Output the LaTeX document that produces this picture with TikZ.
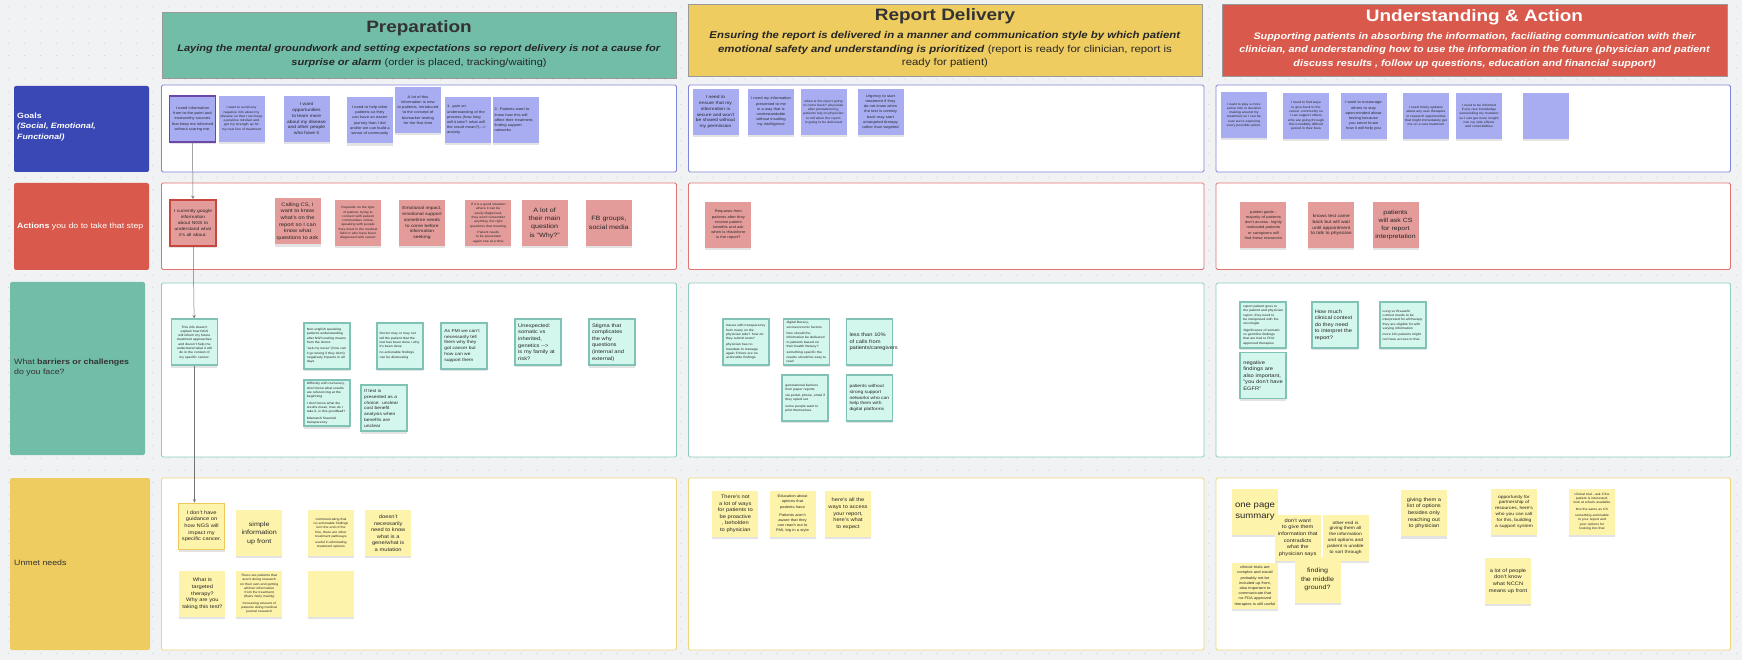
\documentclass[tikz,border=0pt]{standalone}
\usepackage{fontspec}
\setmainfont{Liberation Sans}[FakeStretch=1.15]
\usetikzlibrary{shapes,arrows,shadows}

\definecolor{board}{HTML}{F1F2F4}
\definecolor{boarddot}{HTML}{C3C7CD}
\definecolor{prepgreen}{HTML}{72BDA8}
\definecolor{delivyellow}{HTML}{EECC60}
\definecolor{actred}{HTML}{D95A4C}
\definecolor{goalblue}{HTML}{3A48B6}
\definecolor{goalline}{HTML}{7F85DA}
\definecolor{actline}{HTML}{E2746F}
\definecolor{barline}{HTML}{8CCDBF}
\definecolor{needline}{HTML}{F1D57A}
\definecolor{goalfill}{HTML}{A8ACF1}
\definecolor{actfill}{HTML}{E39C99}
\definecolor{barfill}{HTML}{D3F6ED}
\definecolor{barrim}{HTML}{80C2B6}
\definecolor{needfill}{HTML}{FDF3AA}
\definecolor{needrim}{HTML}{EEC957}
\definecolor{goalrim}{HTML}{6B48A8}
\definecolor{actrim}{HTML}{C9453E}
\definecolor{labeltext}{HTML}{333333}

\hyphenpenalty=10000
\exhyphenpenalty=10000

\begin{document}
\begin{tikzpicture}[x=1pt,y=-1pt]
\tikzstyle{sticky} = [rectangle, minimum width=46, minimum height=46, text width=42, inner sep=0pt, align=center, text=black!85, drop shadow={shadow xshift=0pt, shadow yshift=-2.2pt, opacity=0.22}]
\tikzstyle{goal} = [sticky, fill=goalfill]
\tikzstyle{act} = [sticky, fill=actfill]
\tikzstyle{barrier} = [sticky, fill=barfill, draw=barrim, line width=1.8pt, text width=40]
\tikzstyle{need} = [sticky, fill=needfill]
\tikzstyle{tiny txt} = [font=\fontsize{3.1}{4.3}\selectfont]
\tikzstyle{small txt} = [font=\fontsize{3.6}{5.2}\selectfont]
\tikzstyle{mid txt} = [font=\fontsize{4.3}{5.8}\selectfont]
\tikzstyle{plain txt} = [font=\fontsize{5}{6.6}\selectfont]
\tikzstyle{big txt} = [font=\fontsize{6.2}{8.4}\selectfont]
\tikzstyle{huge txt} = [font=\fontsize{8.3}{11}\selectfont]
\tikzstyle{header} = [rectangle, draw=black!40, line width=0.7pt]
\tikzstyle{headtitle} = [font=\fontsize{16.5}{20}\selectfont\bfseries, text=black!80]
\tikzstyle{headsub} = [align=center, font=\fontsize{9.6}{13.4}\selectfont, text=black!85]
\tikzstyle{rowlabel} = [rectangle, rounded corners=2pt]
\tikzstyle{rowtext} = [anchor=west, align=left, inner sep=0pt, font=\fontsize{7.65}{10.8}\selectfont]
\tikzstyle{lane} = [fill=white, line width=0.9pt, rounded corners=1.5pt]
\tikzstyle{flowline} = [->, >=stealth, draw=black!55, line width=0.5pt]

% board
\useasboundingbox (0,0) rectangle (1742,660);
\fill[board] (0,0) rectangle (1742,660);
\foreach \y in {6.7,18.9,...,660}
  \draw[boarddot, line width=1.1pt, line cap=round, dash pattern=on 0pt off 16pt] (8.8,\y) -- (1742,\y);

% lanes
\foreach \l/\r in {161.5/676.5,688.5/1204,1216/1730.5} {
  \draw[lane, draw=goalline] (\l,85) rectangle (\r,172);
  \draw[lane, draw=actline] (\l,183) rectangle (\r,269.5);
  \draw[lane, draw=barline] (\l,283) rectangle (\r,457);
  \draw[lane, draw=needline] (\l,478) rectangle (\r,650);
}

% phase headers
\node[header, fill=prepgreen, minimum width=514, minimum height=66] (hprep) at (419,45) {};
\node[headtitle] (tprep) at (419,28) {Preparation};
\node[headsub] (sprep) at (419,56) {\textbf{\textit{Laying the mental groundwork and setting expectations so report delivery is not a cause for}}\\
  \textbf{\textit{surprise or alarm}} (order is placed, tracking/waiting)};

\node[header, fill=delivyellow, minimum width=514, minimum height=72] (hdeliv) at (945,40) {};
\node[headtitle] (tdeliv) at (945,16.5) {Report Delivery};
\node[headsub, font=\fontsize{9.9}{13.4}\selectfont] (sdeliv) at (945,49.7) {\textbf{\textit{Ensuring the report is delivered in a manner and communication style by which patient}}\\
  \textbf{\textit{emotional safety and understanding is prioritized}} (report is ready for clinician, report is\\
  ready for patient)};

\node[header, fill=actred, minimum width=505, minimum height=72] (hact) at (1474.5,40) {};
\node[headtitle, text=white] (tact) at (1474.5,17.5) {Understanding \& Action};
\node[headsub, text=white, font=\fontsize{9.4}{13.4}\selectfont\bfseries\itshape] (sact) at (1474.5,50.5) {Supporting patients in absorbing the information, faciliating communication with their\\
  clinician, and understanding how to use the information in the future (physician and patient\\
  discuss results , follow up questions, education and financial support)};

% row labels
\node[rowlabel, fill=goalblue, minimum width=135, minimum height=86] (lgoal) at (81.5,129) {};
\node[rowtext, text=white] (xgoal) at (17,127) {\textbf{Goals}\\\textbf{\textit{(Social, Emotional,}}\\\textbf{\textit{Functional)}}};
\node[rowlabel, fill=actred, minimum width=135, minimum height=87] (lact) at (81.5,226.5) {};
\node[rowtext, text=white] (xact) at (17,226.5) {\textbf{Actions} you do to take that step};
\node[rowlabel, fill=prepgreen, minimum width=135, minimum height=173] (lbar) at (77.5,368.5) {};
\node[rowtext, text=labeltext] (xbar) at (14,367.5) {What \textbf{barriers or challenges}\\do you face?};
\node[rowlabel, fill=delivyellow, minimum width=140, minimum height=172] (lneed) at (80,564) {};
\node[rowtext, text=labeltext] (xneed) at (14,563) {Unmet needs};

% goals
\node[goal, small txt, draw=goalrim, line width=1.2pt] (g1) at (192.5,119) {I need information from to-the-point and trustworthy sources that keep me informed without scaring me.};
\node[goal, tiny txt] (g2) at (241.5,118.7) {I want to avoid any negative info about my disease so that I can keep a positive mindset and get my strength up for my next line of treatment};
\node[goal, mid txt] (g3) at (306.5,118.7) {I want opportunities to learn more about my disease and other people who have it};
\node[goal, small txt] (g4) at (369.8,120.5) {I need to help other patients so they can have an easier journey than I did and/or we can build a sense of community};
\node[goal, small txt] (g5) at (418,110) {A lot of this information is new to patients, introduced to the concept of biomarker testing for the first time};
\node[goal, small txt, align=left] (g6) at (468,120) {1. gain an understanding of the process (how long will it take? what will the result mean?){-}{-}{-}> anxiety};
\node[goal, small txt, align=left] (g7) at (515.5,120) {2. Patients want to know how this will affect their treatment, finding support networks};

\node[goal, mid txt] (rg1) at (715.5,112) {I need to ensure that my information is secure and won't be shared without my permission};
\node[goal, small txt] (rg2) at (771,112) {I need my information presented to me in a way that is understandable without insulting my intelligence};
\node[goal, tiny txt] (rg3) at (823.5,112) {when is the report going to come back? physician after prostatectomy, patients rely on physician to tell when the report is going to be delivered};
\node[goal, small txt] (rg4) at (880.5,112) {Urgency to start treatment if they do not know when the test is coming back may start untargeted therapy rather than targeted};

\node[goal, tiny txt] (ug1) at (1244,115) {I want to play a more active role in decision making around my treatment so I can be sure we're exploring every possible option.};
\node[goal, tiny txt] (ug2) at (1306,116) {I need to find ways to give back to the cancer community so I can support others who are going through this incredibly difficult period in their lives};
\node[goal, small txt] (ug3) at (1363.5,116) {I want to encourage others to stay open-minded about testing because you never know how it will help you};
\node[goal, tiny txt] (ug4) at (1426,116) {I need timely updates about any new therapies or research opportunities that might immediately get me on a new treatment};
\node[goal, tiny txt] (ug5) at (1479,116) {I need to be informed if any new knowledge surrounding my mutation so I can get more insight into my side effects and comorbidities};
\node[goal] (ug6) at (1546,116) {};

% actions
\node[act, mid txt, draw=actrim, line width=2pt] (a1) at (193,223) {I currently google information about NGS to understand what it's all about.};
\node[act, plain txt] (a2) at (297.5,221.5) {Calling CS, I want to know what's on the report so I can know what questions to ask};
\node[act, tiny txt] (a3) at (358,223) {Depends on the type of patient, trying to connect with patient communities online, speaking with people they meet in the medical field or who have been diagnosed with cancer};
\node[act, mid txt] (a4) at (422,223) {Emotional impact, emotional support sometime needs to come before information seeking};
\node[act, tiny txt] (a5) at (488.3,223) {If it is a good situation where it can be easily diagnosed, they won't remember anything, the right questions that meeting.\\[2pt] Patient needs to be presented again one at a time};
\node[act, big txt] (a6) at (544.6,223) {A lot of their main question is "Why?"};
\node[act, big txt] (a7) at (608.8,223) {FB groups, social media};

\node[act, small txt] (ra1) at (728.4,225) {Requests from patients after they receive patient benefits and ask when is this/where is the report?};

\node[act, small txt] (ua1) at (1263.4,225) {patient guide - majority of patients don't access. highly motivated patients or caregivers will find these resources};
\node[act, mid txt] (ua2) at (1331.3,225) {knows test came back but will wait until appointment to talk to physician};
\node[act, big txt, font=\fontsize{6}{8}\selectfont] (ua3) at (1395.5,225) {patients will ask CS for report interpretation};

% barriers
\node[barrier, tiny txt] (b1) at (194.4,342.3) {This info doesn't explain how NGS will inform my future treatment approaches and doesn't help me understand what it will do in the context of my specific cancer.};
\node[barrier, tiny txt, align=left] (b2) at (326.8,345.8) {Non-english speaking patients understanding after NGS testing means from the doctor\\[2pt] "ask my nurse" (how can it go wrong if they don't) negatively impacts in all days};
\node[barrier, tiny txt, align=left] (b3) at (399.6,345.8) {Doctor may or may not tell the patient that the test has been done / why it's been done\\[2pt] no actionable findings can be distressing};
\node[barrier, mid txt, align=left] (b4) at (464.3,345.8) {As FMI we can't necessarily tell them why they got cancer but how can we support them};
\node[barrier, plain txt, align=left] (b5) at (538.2,342) {Unexpected: somatic vs inherited, genetics {-}{-}> is my family at risk?};
\node[barrier, plain txt, align=left] (b6) at (612,342.3) {Stigma that complicates the why questions (internal and external)};
\node[barrier, tiny txt, align=left] (b7) at (326.8,403.3) {Difficulty with numeracy, don't know what results are referencing at the beginning\\[2pt] I don't know what the results mean, how do I take it, is this good/bad?\\[2pt] Mismatch financial transparency};
\node[barrier, mid txt, align=left] (b8) at (384.2,408.3) {If test is presented as a choice: unclear cost benefit analysis when benefits are unclear};

\node[barrier, tiny txt, align=left] (rb1) at (746,342) {Issues with transparency from many on the physician side? how do they submit tests?\\[2pt] physician has no mandate to manage again if there are no actionable findings};
\node[barrier, tiny txt, align=left] (rb2) at (806.5,342) {digital literacy, socioeconomic factors\\[2pt] how should the information be delivered to patients based on their health literacy?\\[2pt] something specific the results should be easy to read};
\node[barrier, plain txt, align=left] (rb3) at (869.5,342) {less than 10\% of calls from patients/caregivers};
\node[barrier, tiny txt, align=left] (rb4) at (805.3,398) {generational barriers from paper reports\\[2pt] via portal, phone, email if they opted out\\[2pt] some people want to print themselves};
\node[barrier, mid txt, align=left] (rb5) at (869.5,398) {patients without strong support networks who can help them with digital platforms};

\node[barrier, tiny txt, align=left] (ub1) at (1263.3,325) {report patient goes to the patient and physician report, they need to be interpreted with the oncologist\\[2pt] Significance of somatic vs germline findings that are tied to FDA approved therapies};
\node[barrier, plain txt, align=left] (ub2) at (1263.3,375.5) {negative findings are also important, "you don't have EGFR"};
\node[barrier, plain txt, align=left] (ub3) at (1334.8,325) {How much clinical context do they need to interpret the report?};
\node[barrier, tiny txt, align=left] (ub4) at (1402.7,325) {Lung vs Breast/in context needs to be interpreted for all therapy they are eligible for with varying information\\[2pt] more info patients might not have access to that};

% unmet needs
\node[need, plain txt, draw=needrim, line width=1.5pt] (u1) at (201.6,526.3) {I don't have guidance on how NGS will impact my specific cancer.};
\node[need, big txt] (u2) at (259.2,533.2) {simple information up front};
\node[need, tiny txt] (u3) at (331,533.2) {communicating that no actionable findings isn't the end of the line, there are other treatment pathways\\[2pt] useful in eliminating treatment options};
\node[need, plain txt] (u4) at (388.2,533.2) {doesn't necessarily need to know what is a gene/what is a mutation};
\node[need, plain txt] (u5) at (202.4,593.8) {What is targeted therapy? Why are you taking this test?};
\node[need, tiny txt] (u6) at (259.2,593.8) {There are patients that aren't doing research on their own and getting all their information from the treatment (that's fairly mainly)\\[2pt] Increasing amount of patients doing medical journal research};
\node[need] (u7) at (331,593.8) {};

\node[need, plain txt] (ru1) at (735.3,513.8) {There's not a lot of ways for patients to be proactive , beholden to physician};
\node[need, small txt] (ru2) at (792.5,513.8) {Education about options that patients have\\[3pt] Patients aren't aware that they can reach out to FMI, big in a style};
\node[need, plain txt] (ru3) at (848,513.8) {here's all the ways to access your report, here's what to expect};

\node[need, huge txt] (uu1) at (1255,511.5) {one page summary};
\node[need, plain txt] (uu2) at (1297.7,537.5) {don't want to give them information that contradicts what the physician says};
\node[need, mid txt] (uu3) at (1345.5,537.5) {other end is giving them all the information and options and patient is unable to sort through};
\node[need, small txt] (uu4) at (1255,586) {clinical trials are complex and would probably not be included up front, also important to communicate that no FDA approved therapies is still useful};
\node[need, big txt] (uu5) at (1317.5,579.5) {finding the middle ground?};
\node[need, plain txt] (uu6) at (1424,513.3) {giving them a list of options besides only reaching out to physician};
\node[need, mid txt] (uu7) at (1514,511.5) {opportunity for partnership of resources, here's who you can call for this, building a support system};
\node[need, tiny txt] (uu8) at (1592,511.5) {clinical trial - ask if the patient is interested, look at what's available\\[2pt] Not the same as CS\\[2pt] something actionable in your report and your options for looking into that};
\node[need, plain txt] (uu9) at (1508,581) {a lot of people don't know what NCCN means up front};

% journey of one patient
\draw[flowline] (g1) -- (a1);
\draw[flowline] (a1) -- (b1);
\draw[flowline] (b1.south) -- (b1.south |- u1.north);

\end{tikzpicture}
\end{document}
